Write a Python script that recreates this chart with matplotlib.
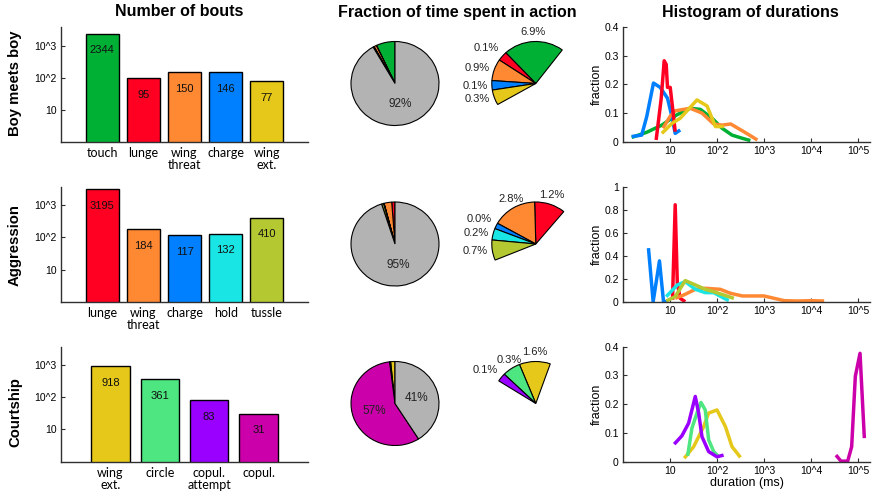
import numpy as np
import matplotlib
matplotlib.use('Agg')
import matplotlib.pyplot as plt
from matplotlib.ticker import NullLocator, NullFormatter, LogLocator

W, H = 872, 494
plt.rcParams['font.family'] = ['Liberation Sans', 'DejaVu Sans']

# --------------------------------------------------
# Colours per behaviour
# --------------------------------------------------
GREEN = '#00b035'
RED = '#ff0022'
ORANGE = '#ff8833'
BLUE = '#0080ff'
YELLOW = '#e5c81a'
CYAN = '#1ae5e5'
OLIVE = '#b4c832'
MINT = '#4de680'
PURPLE = '#9900ff'
MAGENTA = '#cc00aa'
GRAY = '#b3b3b3'

# --------------------------------------------------
# Data: number of bouts
# --------------------------------------------------
bmb_names = ['touch', 'lunge', 'wing\nthreat', 'charge', 'wing\next.']
bmb_counts = [2344, 95, 150, 146, 77]
bmb_colors = [GREEN, RED, ORANGE, BLUE, YELLOW]

agg_names = ['lunge', 'wing\nthreat', 'charge', 'hold', 'tussle']
agg_counts = [3195, 184, 117, 132, 410]
agg_colors = [RED, ORANGE, BLUE, CYAN, OLIVE]

crt_names = ['wing\next.', 'circle', 'copul.\nattempt', 'copul.']
crt_counts = [918, 361, 83, 31]
crt_colors = [YELLOW, MINT, PURPLE, MAGENTA]

# --------------------------------------------------
# Data: fraction of time (%) and remaining (no action)
# --------------------------------------------------
bmb_pct = [6.9, 0.1, 0.9, 0.1, 0.3]
bmb_none = 91.7
agg_pct = [1.2, 2.8, 0.04, 0.2, 0.7]
agg_none = 95.06
crt_pct = [1.6, 0.3, 0.1, 57.0]
crt_none = 41.0

# angular spans (deg) of the magnified pies
bmb_zoom_span = [80, 13, 30, 13, 21]
agg_zoom_span = [41, 59, 8, 16, 28]
crt_zoom_span = [41, 24, 11.6]

# --------------------------------------------------
# Data: histograms of durations (ms, fraction)
# --------------------------------------------------
bmb_touch_x = [1.53, 3.2, 6.7, 14.0, 26.9, 44.2, 78.5, 128.5, 209, 344, 513]
bmb_touch_y = [0.015, 0.033, 0.058, 0.094, 0.117, 0.113, 0.082, 0.047, 0.023, 0.012, 0.004]
bmb_lunge_x = [5.07, 6.49, 7.52, 8.3, 8.85, 10.1, 11.5, 12.9]
bmb_lunge_y = [0.006, 0.15, 0.283, 0.27, 0.19, 0.19, 0.11, 0.035]
bmb_threat_x = [7.08, 10, 12.9, 26.9, 47.9, 85.1, 128.8, 195, 372, 724]
bmb_threat_y = [0.047, 0.088, 0.108, 0.117, 0.1, 0.062, 0.058, 0.062, 0.035, 0.006]
bmb_charge_x = [1.53, 2.5, 3.2, 4.45, 6.17, 8.85, 10.96, 12.9, 16.5]
bmb_charge_y = [0.018, 0.023, 0.088, 0.205, 0.19, 0.152, 0.088, 0.029, 0.041]
bmb_wingext_x = [6.7, 11, 16.5, 37.5, 61.4, 92.5, 139]
bmb_wingext_y = [0.029, 0.064, 0.082, 0.146, 0.125, 0.053, 0.053]

agg_lunge_x = [11.3, 12.9, 14.3, 16.5, 21.1]
agg_lunge_y = [0.015, 0.845, 0.16, 0.029, 0.0]
agg_threat_x = [12.9, 19.5, 34.7, 56.2, 117.5, 195, 347, 1000, 1622, 2692, 5129, 10000, 19055]
agg_threat_y = [0.03, 0.058, 0.108, 0.117, 0.108, 0.073, 0.05, 0.05, 0.03, 0.009, 0.006, 0.009, 0.006]
agg_charge_x = [3.48, 4.38, 5.97, 7.28, 8.85]
agg_charge_y = [0.467, 0.0, 0.356, 0.0, 0.0]
agg_hold_x = [8.3, 14.3, 21.1, 34.7, 56.2, 85.1, 141, 178]
agg_hold_y = [0.044, 0.146, 0.175, 0.108, 0.079, 0.079, 0.03, 0.01]
agg_tussle_x = [8.3, 12.9, 21.1, 34.7, 56.2, 85.1, 141, 229]
agg_tussle_y = [0.006, 0.044, 0.184, 0.146, 0.108, 0.087, 0.058, 0.029]

crt_wingext_x = [20.1, 31.8, 52.1, 66.1, 100, 151, 209, 316]
crt_wingext_y = [0.012, 0.052, 0.122, 0.169, 0.18, 0.122, 0.052, 0.015]
crt_circle_x = [23.7, 29.3, 37.5, 45.7, 56.2, 66.5, 85.1, 109.6]
crt_circle_y = [0.02, 0.117, 0.169, 0.206, 0.18, 0.076, 0.035, 0.017]
crt_attempt_x = [12.3, 17.9, 24.9, 34.5, 40.7, 47.9, 66.5, 100, 138]
crt_attempt_y = [0.061, 0.09, 0.134, 0.227, 0.169, 0.087, 0.035, 0.017, 0.023]
crt_copul_x = [33900, 43400, 60300, 73300, 87700, 110400, 136500]
crt_copul_y = [0.023, 0.002, 0.002, 0.052, 0.297, 0.377, 0.082]

hist_xticks = [10, 100, 1e3, 1e4, 1e5]
hist_xlabels = ['10', '10^2', '10^3', '10^4', '10^5']
bar_yticks = [10, 100, 1000]
bar_ylabels = ['10', '10^2', '10^3']

AXC = '#303030'


def px_axes(fig, left, top, right, bottom):
    return fig.add_axes([left / W, 1 - bottom / H, (right - left) / W, (bottom - top) / H])


# --------------------------------------------------
# Bar panel
# --------------------------------------------------
def bar_panel(ax, names, counts, colors):
    n = len(names)
    x = np.arange(1, n + 1)
    ax.set_yscale('log')
    width = 0.8 if n == 5 else 0.78
    ax.bar(x, counts, width=width, color=colors, edgecolor='black', linewidth=1.0, zorder=2)
    for xi, c in zip(x, counts):
        ax.text(xi, c / 3.3, str(c), ha='center', va='center', fontsize=8, color='#111111')
    ax.set_xlim(0, n + 1)
    ax.set_ylim(1, 3700)
    ax.set_xticks(x)
    ax.set_xticklabels(names, family=['Lato', 'DejaVu Sans'], fontsize=9, linespacing=1.0)
    ax.set_yticks(bar_yticks)
    ax.set_yticklabels(bar_ylabels, fontsize=7.5)
    ax.yaxis.set_minor_locator(NullLocator())
    ax.tick_params(axis='x', length=0, pad=4)
    ax.tick_params(axis='y', direction='in', length=3, pad=3, color=AXC)
    for s in ['top', 'right']:
        ax.spines[s].set_visible(False)
    for s in ['left', 'bottom']:
        ax.spines[s].set_color(AXC)
        ax.spines[s].set_linewidth(1.0)


# --------------------------------------------------
# Pie panel (full pie + magnified pie of the actions)
# --------------------------------------------------
def pie_panel(ax, pct, none, colors, zoom_span, zoom_start, n_zoom):
    wp = dict(edgecolor='black', linewidth=0.8)
    vals = list(pct) + [none]
    cols = list(colors) + [GRAY]
    wedges, _ = ax.pie(vals, colors=cols, startangle=90, counterclock=True,
                       center=(0, 0), radius=1, wedgeprops=wp)
    for w, v in zip(wedges, vals):
        if v >= 10:
            a = np.deg2rad((w.theta1 + w.theta2) / 2)
            ax.text(0.5 * np.cos(a), 0.5 * np.sin(a), f'{v:.0f}%', ha='center',
                    va='center', fontsize=8.5, color='#222222')

    zc = (3.2, 0.0)
    spans = [s / 360 for s in zoom_span]
    zw, _ = ax.pie(spans, colors=colors[:n_zoom], startangle=zoom_start, counterclock=True,
                   center=zc, radius=1, wedgeprops=wp, normalize=False)
    for w, v in zip(zw, pct[:n_zoom]):
        a = np.deg2rad((w.theta1 + w.theta2) / 2)
        c, s = np.cos(a), np.sin(a)
        ha = 'center' if abs(c) < 0.6 else ('right' if c < 0 else 'left')
        va = 'bottom' if s > 0.4 else ('top' if s < -0.4 else 'center')
        ax.text(zc[0] + 1.1 * c, zc[1] + 1.1 * s, f'{v:.1f}%', ha=ha, va=va,
                fontsize=8, color='#222222')
    ax.set_aspect('auto')
    ax.set_xlim((330 - 395) / 44, (600 - 395) / 44)
    ax.set_ylim(-60 / 42, 60 / 42)
    ax.axis('off')


# --------------------------------------------------
# Histogram panel
# --------------------------------------------------
def hist_panel(ax, series, ymax, yticks):
    for x, y, c in series:
        ax.plot(x, y, color=c, linewidth=2.5, solid_capstyle='butt')
    ax.set_xscale('log')
    ax.set_xlim(1, 1.8e5)
    ax.set_ylim(0, ymax)
    ax.set_xticks(hist_xticks)
    ax.set_xticklabels(hist_xlabels, fontsize=7.5)
    ax.xaxis.set_minor_locator(LogLocator(base=10, subs=np.arange(2, 10)))
    ax.xaxis.set_minor_formatter(NullFormatter())
    ax.set_yticks(yticks)
    ax.set_yticklabels([('%g' % t) for t in yticks], fontsize=7.5)
    ax.tick_params(which='major', direction='in', length=3, pad=3, color=AXC)
    ax.tick_params(which='minor', direction='in', length=1.5, color=AXC)
    ax.set_ylabel('fraction', fontsize=9)
    ax.yaxis.set_label_coords(-0.08, 0.5)
    for s in ['top', 'right']:
        ax.spines[s].set_visible(False)
    for s in ['left', 'bottom']:
        ax.spines[s].set_color(AXC)
        ax.spines[s].set_linewidth(1.0)


fig = plt.figure(figsize=(W / 100, H / 100), dpi=100)

rows = [(27.3, 141.7), (187.0, 301.7), (346.7, 461.7)]

# bars
ax = px_axes(fig, 61, rows[0][0], 308, rows[0][1])
bar_panel(ax, bmb_names, bmb_counts, bmb_colors)
ax = px_axes(fig, 61, rows[1][0], 308, rows[1][1])
bar_panel(ax, agg_names, agg_counts, agg_colors)
ax = px_axes(fig, 61, rows[2][0], 308, rows[2][1])
bar_panel(ax, crt_names, crt_counts, crt_colors)

# pies
ax = px_axes(fig, 330, 83.5 - 60, 600, 83.5 + 60)
pie_panel(ax, bmb_pct, bmb_none, bmb_colors, bmb_zoom_span, 53, 5)
ax = px_axes(fig, 330, 244 - 60, 600, 244 + 60)
pie_panel(ax, agg_pct, agg_none, agg_colors, agg_zoom_span, 50.5, 5)
ax = px_axes(fig, 330, 403.5 - 60, 600, 403.5 + 60)
pie_panel(ax, crt_pct, crt_none, crt_colors, crt_zoom_span, 70.8, 3)

# histograms
ax = px_axes(fig, 623, rows[0][0], 870, rows[0][1])
hist_panel(ax, [(bmb_touch_x, bmb_touch_y, GREEN),
                (bmb_charge_x, bmb_charge_y, BLUE),
                (bmb_threat_x, bmb_threat_y, ORANGE),
                (bmb_lunge_x, bmb_lunge_y, RED),
                (bmb_wingext_x, bmb_wingext_y, YELLOW)], 0.4, [0, 0.1, 0.2, 0.3, 0.4])
ax = px_axes(fig, 623, rows[1][0], 870, rows[1][1])
hist_panel(ax, [(agg_lunge_x, agg_lunge_y, RED),
                (agg_threat_x, agg_threat_y, ORANGE),
                (agg_charge_x, agg_charge_y, BLUE),
                (agg_hold_x, agg_hold_y, CYAN),
                (agg_tussle_x, agg_tussle_y, OLIVE)], 1.0, [0, 0.2, 0.4, 0.6, 0.8, 1])
ax = px_axes(fig, 623, rows[2][0], 870, rows[2][1])
hist_panel(ax, [(crt_wingext_x, crt_wingext_y, YELLOW),
                (crt_circle_x, crt_circle_y, MINT),
                (crt_attempt_x, crt_attempt_y, PURPLE),
                (crt_copul_x, crt_copul_y, MAGENTA)], 0.4, [0, 0.1, 0.2, 0.3, 0.4])
ax.set_xlabel('duration (ms)', fontsize=9, labelpad=1)

# titles and row labels
fig.text(179 / W, 1 - 12 / H, 'Number of bouts', ha='center', va='center',
         fontsize=11.5, fontweight='bold')
fig.text(457 / W, 1 - 12 / H, 'Fraction of time spent in action', ha='center',
         va='center', fontsize=11.5, fontweight='bold')
fig.text(750 / W, 1 - 12 / H, 'Histogram of durations', ha='center', va='center',
         fontsize=11.5, fontweight='bold')
for label, yc in [('Boy meets boy', 83), ('Aggression', 245), ('Courtship', 412)]:
    fig.text(15 / W, 1 - yc / H, label, ha='center', va='center', rotation=90,
             fontsize=10.7, fontweight='bold')

fig.savefig('out.png', dpi=100)
